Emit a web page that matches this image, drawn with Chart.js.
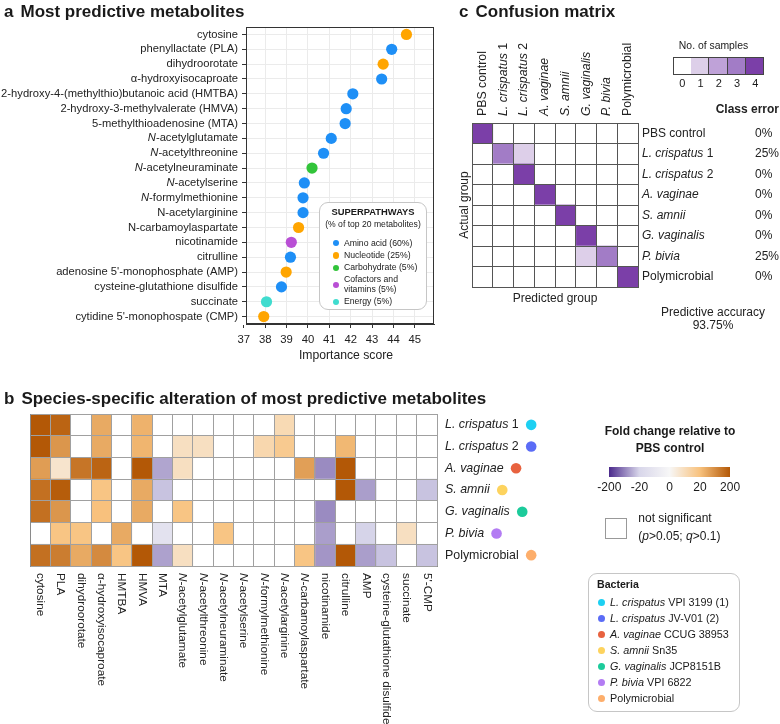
<!DOCTYPE html>
<html>
<head>
<meta charset="utf-8">
<script src="https://cdn.jsdelivr.net/npm/chart.js@4.4.1/dist/chart.umd.min.js"></script>
<style>
  body { margin: 0; background: #fff; }
  #page { position: relative; width: 780px; height: 724px; overflow: hidden;
          font-family: "Liberation Sans", Arial, sans-serif; color: #1a1a1a; }
  #page canvas { position: absolute; left: 0; top: 0; }
  .abs { position: absolute; white-space: nowrap; }
  .ttl { font-size: 17px; font-weight: bold; line-height: 20px; }
  .ttl span { margin-right: 7px; }
  .box { border: 1px solid #c6c6c6; border-radius: 9px; background: #fff; box-sizing: border-box; }
  .dot { display: inline-block; border-radius: 50%; flex: none; }
</style>
</head>
<body>
<div id="page">
  <canvas id="dots" width="780" height="724"></canvas>
  <canvas id="conf" width="780" height="724"></canvas>
  <canvas id="heat" width="780" height="724"></canvas>

  <div class="abs ttl" style="left:4px;top:2px"><span>a</span>Most predictive metabolites</div>
  <div class="abs ttl" style="left:459px;top:2px"><span>c</span>Confusion matrix</div>
  <div class="abs ttl" style="left:4px;top:389px"><span>b</span>Species-specific alteration of most predictive metabolites</div>

  <div id="pathLegend" class="abs box" style="left:319px;top:202px;width:108px;height:108px"></div>
  <div id="countLegend" class="abs" style="left:660px;top:36px;width:107px;height:56px"></div>
  <div id="fcLegend" class="abs" style="left:590px;top:420px;width:160px;height:130px"></div>
  <div id="bactLegend" class="abs box" style="left:588px;top:573px;width:152px;height:139px"></div>
</div>
<script>
// ---- panel a: importance scores ----
const metabolites = ['cytosine', 'phenyllactate (PLA)', 'dihydroorotate', 'α-hydroxyisocaproate',
  '2-hydroxy-4-(methylthio)butanoic acid (HMTBA)', '2-hydroxy-3-methylvalerate (HMVA)',
  '5-methylthioadenosine (MTA)', '*N*-acetylglutamate', '*N*-acetylthreonine', '*N*-acetylneuraminate',
  '*N*-acetylserine', '*N*-formylmethionine', 'N-acetylarginine', 'N-carbamoylaspartate', 'nicotinamide',
  'citrulline', "adenosine 5'-monophosphate (AMP)", 'cysteine-glutathione disulfide', 'succinate',
  "cytidine 5'-monophospate (CMP)"];
const importance = [44.61, 43.92, 43.52, 43.45, 42.10, 41.79, 41.74, 41.09, 40.73, 40.19,
  39.83, 39.77, 39.77, 39.56, 39.22, 39.18, 38.98, 38.76, 38.06, 37.93];
const pathway = ['Nucleotide', 'Amino acid', 'Nucleotide', 'Amino acid', 'Amino acid', 'Amino acid',
  'Amino acid', 'Amino acid', 'Amino acid', 'Carbohydrate', 'Amino acid', 'Amino acid', 'Amino acid',
  'Nucleotide', 'Cofactors and vitamins', 'Amino acid', 'Nucleotide', 'Amino acid', 'Energy', 'Nucleotide'];
const pathways = ['Amino acid', 'Nucleotide', 'Carbohydrate', 'Cofactors and vitamins', 'Energy'];
const pathColors = ['#1e8ff6', '#ffa500', '#32c43a', '#b94fd5', '#40dccf'];
const scoreTicks = [37, 38, 39, 40, 41, 42, 43, 44, 45];

// ---- panel c: confusion matrix (rows = actual, cols = predicted) ----
const groups = ['PBS control', '*L. crispatus* 1', '*L. crispatus* 2', '*A. vaginae*', '*S. amnii*',
  '*G. vaginalis*', '*P. bivia*', 'Polymicrobial'];
const confusion = [
  [4, 0, 0, 0, 0, 0, 0, 0],
  [0, 3, 1, 0, 0, 0, 0, 0],
  [0, 0, 4, 0, 0, 0, 0, 0],
  [0, 0, 0, 4, 0, 0, 0, 0],
  [0, 0, 0, 0, 4, 0, 0, 0],
  [0, 0, 0, 0, 0, 4, 0, 0],
  [0, 0, 0, 0, 0, 1, 3, 0],
  [0, 0, 0, 0, 0, 0, 0, 4]];
const countLevels = [0, 1, 2, 3, 4];
const countColors = ['#ffffff', '#ddcfe9', '#bfa2d8', '#a27cc6', '#7b3fa8'];

// ---- panel b: fold change vs PBS control (null = not significant) ----
const species = groups.slice(1);
const heatCols = ['cytosine', 'PLA', 'dihydroorotate', 'α-hydroxyisocaproate', 'HMTBA', 'HMVA', 'MTA',
  '*N*-acetylglutamate', '*N*-acetylthreonine', '*N*-acetylneuraminate', '*N*-acetylserine',
  '*N*-formylmethionine', '*N*-acetylarginine', '*N*-carbamoylaspartate', 'nicotinamide', 'citrulline',
  'AMP', 'cysteine-glutathione disulfide', 'succinate', "5'-CMP"];
const fcLc1 = [200, 180, null, 61, null, 47, null, null, null, null, null, null, 11, null, null, null, null, null, null, null];
const fcLc2 = [200, 95, null, 61, null, 42, null, 9, 9, null, null, 12, 17, null, null, 37, null, null, null, null];
const fcAv = [83, 7, 150, 180, null, 200, -71, 9, null, null, null, null, null, 79, -99, 200, null, null, null, null];
const fcSa = [159, 192, null, 19, null, 61, -40, null, null, null, null, null, null, null, null, 200, -79, null, null, -40];
const fcGv = [159, 95, null, 21, null, 61, null, 19, null, null, null, null, null, null, -99, null, null, null, null, null];
const fcPb = [null, 19, 19, null, 61, null, -13, null, null, 19, null, null, null, null, -79, null, -22, null, 9, null];
const fcPoly = [159, 137, 61, 115, 19, 200, -75, 9, null, null, null, null, null, 19, -88, 200, -79, -40, null, -40];
const foldChange = [fcLc1, fcLc2, fcAv, fcSa, fcGv, fcPb, fcPoly];
const fcTicks = [-200, -20, 0, 20, 200];
const fcStops = ['#4b2a8c', '#d8d6ea', '#f7f7f7', '#f8c27e', '#b35806'];

const strains = ['*L. crispatus* VPI 3199 (1)', '*L. crispatus* JV-V01 (2)', '*A. vaginae* CCUG 38953',
  '*S. amnii* Sn35', '*G. vaginalis* JCP8151B', '*P. bivia* VPI 6822', 'Polymicrobial'];
const speciesColors = ['#1dd0f2', '#5b6cf6', '#e8623f', '#fdd35e', '#1ccb9b', '#b37cf3', '#fdae6b'];

const FONT = '"Liberation Sans", Arial, sans-serif';

// helpers
function hex(c) { return [1, 3, 5].map(i => parseInt(c.slice(i, i + 2), 16)); }
function mix(a, b, f) {
  const A = hex(a), B = hex(b);
  return 'rgb(' + A.map((v, i) => Math.round(v + (B[i] - v) * f)).join(',') + ')';
}
function fcColor(v) {
  if (v === null) return '#ffffff';
  let i = 0;
  while (i < fcTicks.length - 2 && v > fcTicks[i + 1]) i++;
  const f = Math.max(0, Math.min(1, (v - fcTicks[i]) / (fcTicks[i + 1] - fcTicks[i])));
  return mix(fcStops[i], fcStops[i + 1], f);
}
const toHtml = s => s.replace(/\*([^*]+)\*/g, '<i>$1</i>');

// draws "*italic* normal" strings on canvas, returns width
function richText(ctx, str, x, y, size, align, weight) {
  const parts = str.split('*').map((t, i) => ({ t, it: i % 2 === 1 })).filter(p => p.t);
  const fontOf = p => (p.it ? 'italic ' : '') + (weight || 'normal') + ' ' + size + 'px ' + FONT;
  let w = 0;
  parts.forEach(p => { ctx.font = fontOf(p); w += ctx.measureText(p.t).width; });
  let cx = align === 'right' ? x - w : align === 'center' ? x - w / 2 : x;
  ctx.textAlign = 'left';
  ctx.textBaseline = 'middle';
  parts.forEach(p => { ctx.font = fontOf(p); ctx.fillText(p.t, cx, y); cx += ctx.measureText(p.t).width; });
  return w;
}

Chart.defaults.font.family = FONT;
Chart.defaults.color = '#222';
Chart.defaults.animation = false;
Chart.defaults.events = [];
Chart.defaults.responsive = false;
Chart.defaults.plugins.legend.display = false;
Chart.defaults.plugins.tooltip.enabled = false;

// ---------- a: dot plot ----------
const dotLabels = {
  id: 'dotLabels',
  afterDraw(chart) {
    const { ctx, chartArea: a, scales: { y } } = chart;
    ctx.save();
    ctx.fillStyle = '#222';
    metabolites.forEach((m, i) => richText(ctx, m, a.left - 8, y.getPixelForValue(i), 11.2, 'right'));
    richText(ctx, 'Importance score', a.left + 100, 356, 12.2, 'center');
    ctx.strokeStyle = '#333';
    ctx.lineWidth = 1;
    ctx.strokeRect(a.left + 0.5, a.top + 0.5, a.right - a.left - 1, a.bottom - a.top - 1);
    ctx.restore();
  }
};

new Chart(document.getElementById('dots'), {
  type: 'scatter',
  data: {
    datasets: [{
      data: metabolites.map((m, i) => ({ x: importance[i], y: i })),
      pointBackgroundColor: pathway.map(p => pathColors[pathways.indexOf(p)]),
      pointBorderWidth: 0,
      pointRadius: 5.6
    }]
  },
  options: {
    layout: { padding: { left: 246, right: 346, top: 27, bottom: 352 } },
    scales: {
      x: {
        type: 'linear', min: 37.1, max: 45.9,
        afterBuildTicks: s => { s.ticks = scoreTicks.map(v => ({ value: v })); },
        afterFit: s => { s.height = 48; },
        ticks: { font: { size: 11.3 }, color: '#222', padding: 5, maxRotation: 0, autoSkip: false },
        grid: {
          color: c => (c.tick && c.tick.value < 37.1 ? 'rgba(0,0,0,0)' : '#ebebeb'),
          tickColor: '#333', tickLength: 4
        },
        border: { display: true, color: '#333' }
      },
      y: {
        type: 'linear', min: -0.5, max: metabolites.length - 0.5, reverse: true,
        afterBuildTicks: s => { s.ticks = metabolites.map((m, i) => ({ value: i })); },
        afterFit: s => { s.width = 0; },
        ticks: { display: false },
        grid: { color: '#ebebeb', tickColor: '#333', tickLength: 4 },
        border: { display: true, color: '#333' }
      }
    }
  },
  plugins: [dotLabels]
});

// ---------- c: confusion matrix ----------
const classError = confusion.map((r, i) => Math.round(100 * (1 - r[i] / r.reduce((s, v) => s + v, 0))));
const correct = confusion.reduce((s, r, i) => s + r[i], 0);
const total = confusion.reduce((s, r) => s + r.reduce((t, v) => t + v, 0), 0);
const accuracy = (100 * correct / total).toFixed(2);

const confLabels = {
  id: 'confLabels',
  afterDraw(chart) {
    const { ctx, chartArea: a, scales: { x, y } } = chart;
    ctx.save();
    ctx.fillStyle = '#222';
    groups.forEach((g, j) => {
      ctx.save();
      ctx.translate(x.getPixelForValue(j + 0.5), a.top - 7);
      ctx.rotate(-Math.PI / 2);
      richText(ctx, g, 0, 0, 12.3, 'left');
      ctx.restore();
    });
    groups.forEach((g, i) => {
      const py = y.getPixelForValue(i);
      richText(ctx, g, a.right + 4, py, 12, 'left');
      richText(ctx, classError[i] + '%', a.right + 117, py, 12, 'left');
    });
    richText(ctx, 'Class error', a.right + 141, 110, 12, 'right', 'bold');
    richText(ctx, 'Predicted group', (a.left + a.right) / 2, a.bottom + 11.5, 12, 'center');
    richText(ctx, 'Predictive accuracy', a.right + 75, 313, 12, 'center');
    richText(ctx, accuracy + '%', a.right + 75, 326, 12, 'center');
    ctx.save();
    ctx.translate(a.left - 7, (a.top + a.bottom) / 2);
    ctx.rotate(-Math.PI / 2);
    richText(ctx, 'Actual group', 0, 0, 12, 'center');
    ctx.restore();
    ctx.restore();
  }
};

new Chart(document.getElementById('conf'), {
  type: 'bar',
  data: {
    labels: groups,
    datasets: groups.map((g, j) => ({
      data: groups.map(() => 1),
      backgroundColor: confusion.map(r => countColors[countLevels.indexOf(r[j])]),
      borderWidth: 0, barPercentage: 1, categoryPercentage: 1
    }))
  },
  options: {
    indexAxis: 'y',
    layout: { padding: { left: 472, right: 142, top: 123, bottom: 437 } },
    scales: {
      x: {
        stacked: true, min: 0, max: groups.length,
        afterBuildTicks: s => { s.ticks = [...groups.map((g, i) => ({ value: i })), { value: groups.length }]; },
        afterFit: s => { s.height = 0; },
        ticks: { display: false },
        grid: { color: '#555', drawTicks: false, z: 1 },
        border: { display: true, color: '#555', z: 1 }
      },
      y: {
        stacked: true,
        afterFit: s => { s.width = 0; },
        ticks: { display: false },
        grid: { color: '#555', offset: true, drawTicks: false, z: 1 },
        border: { display: true, color: '#555', z: 1 }
      }
    }
  },
  plugins: [confLabels]
});

// ---------- b: heatmap ----------
const heatLabels = {
  id: 'heatLabels',
  afterDraw(chart) {
    const { ctx, chartArea: a, scales: { x, y } } = chart;
    ctx.save();
    species.forEach((s, i) => {
      const py = y.getPixelForValue(i);
      ctx.fillStyle = '#222';
      const w = richText(ctx, s, a.right + 8, py, 12.4, 'left');
      ctx.fillStyle = speciesColors[i];
      ctx.beginPath();
      ctx.arc(a.right + 8 + w + 12.5, py, 5.3, 0, Math.PI * 2);
      ctx.fill();
    });
    ctx.fillStyle = '#222';
    heatCols.forEach((c, j) => {
      ctx.save();
      ctx.translate(x.getPixelForValue(j + 0.5), a.bottom + 7);
      ctx.rotate(Math.PI / 2);
      richText(ctx, c, 0, 0, 11.8, 'left');
      ctx.restore();
    });
    ctx.restore();
  }
};

new Chart(document.getElementById('heat'), {
  type: 'bar',
  data: {
    labels: species,
    datasets: heatCols.map((c, j) => ({
      data: species.map(() => 1),
      backgroundColor: foldChange.map(r => fcColor(r[j])),
      borderWidth: 0, barPercentage: 1, categoryPercentage: 1
    }))
  },
  options: {
    indexAxis: 'y',
    layout: { padding: { left: 30, right: 343, top: 414, bottom: 158 } },
    scales: {
      x: {
        stacked: true, min: 0, max: heatCols.length,
        afterBuildTicks: s => { s.ticks = [...heatCols.map((c, i) => ({ value: i })), { value: heatCols.length }]; },
        afterFit: s => { s.height = 0; },
        ticks: { display: false },
        grid: { color: '#a0a0a0', drawTicks: false, z: 1 },
        border: { display: true, color: '#8a8a8a', z: 1 }
      },
      y: {
        stacked: true,
        afterFit: s => { s.width = 0; },
        ticks: { display: false },
        grid: { color: '#a0a0a0', offset: true, drawTicks: false, z: 1 },
        border: { display: true, color: '#8a8a8a', z: 1 }
      }
    }
  },
  plugins: [heatLabels]
});

// ---------- HTML legends ----------
const pathCounts = pathways.map(p => pathway.filter(q => q === p).length);
document.getElementById('pathLegend').innerHTML =
  '<div class="abs" style="left:0;right:0;top:2px;text-align:center;font-weight:bold;font-size:9.4px;line-height:13px">SUPERPATHWAYS</div>' +
  '<div class="abs" style="left:0;right:0;top:15px;text-align:center;font-size:8.6px;line-height:13px">(% of top 20 metabolites)</div>' +
  '<div class="abs" style="left:13px;top:35.6px;white-space:normal">' +
  pathways.map((p, k) =>
    '<div style="display:flex;align-items:center;margin-bottom:2.9px;line-height:9.4px;font-size:8.7px">' +
    '<span class="dot" style="width:6.4px;height:6.4px;background:' + pathColors[k] + ';margin-right:4.5px"></span>' +
    '<span style="width:76px">' + p + ' (' + Math.round(100 * pathCounts[k] / pathway.length) + '%)</span></div>'
  ).join('') + '</div>';

document.getElementById('countLegend').innerHTML =
  '<div class="abs" style="left:0;right:0;top:2.5px;text-align:center;font-size:10.4px;line-height:13px">No. of samples</div>' +
  countLevels.map((n, k) =>
    '<div class="abs" style="left:' + (12.7 + k * 18.3) + 'px;top:21.3px;width:' + (k === 0 ? 19.3 : 18.3) + 'px;height:18px;box-sizing:border-box;' +
    'border:1px solid #444;' + (k ? 'border-left:none;' : '') + 'background:' + countColors[k] + '"></div>' +
    '<div class="abs" style="left:' + (12.7 + k * 18.3) + 'px;width:19px;top:40.8px;text-align:center;font-size:11px;line-height:13px">' + n + '</div>'
  ).join('');

const grad = 'linear-gradient(to right,' + fcStops.map((c, k) => c + ' ' + (k * 25) + '%').join(',') + ')';
document.getElementById('fcLegend').innerHTML =
  '<div class="abs" style="left:0;right:0;top:3px;text-align:center;font-weight:bold;font-size:12px;line-height:17.3px">Fold change relative to<br>PBS control</div>' +
  '<div class="abs" style="left:19.3px;top:47.3px;width:120.7px;height:9.4px;background:' + grad + '"></div>' +
  fcTicks.map((t, k) =>
    '<div class="abs" style="left:' + (19.3 + k * 30.2 - 20) + 'px;width:40px;top:59.7px;text-align:center;font-size:12px;line-height:14px">' + t + '</div>'
  ).join('') +
  '<div class="abs" style="left:15px;top:98.3px;width:21.7px;height:20.7px;box-sizing:border-box;border:1px solid #999"></div>' +
  '<div class="abs" style="left:48.3px;top:88.7px;font-size:12px;line-height:18px">not significant<br>(<i>p</i>&gt;0.05; <i>q</i>&gt;0.1)</div>';

document.getElementById('bactLegend').innerHTML =
  '<div class="abs" style="left:8px;top:4.3px;font-weight:bold;font-size:10.6px;line-height:12px">Bacteria</div>' +
  strains.map((s, k) =>
    '<div class="abs" style="left:9.2px;top:' + (20.3 + k * 16) + 'px;display:flex;align-items:center;font-size:10.8px;line-height:16px">' +
    '<span class="dot" style="width:7px;height:7px;background:' + speciesColors[k] + ';margin-right:4.8px"></span>' +
    '<span>' + toHtml(s) + '</span></div>'
  ).join('');
</script>
</body>
</html>
